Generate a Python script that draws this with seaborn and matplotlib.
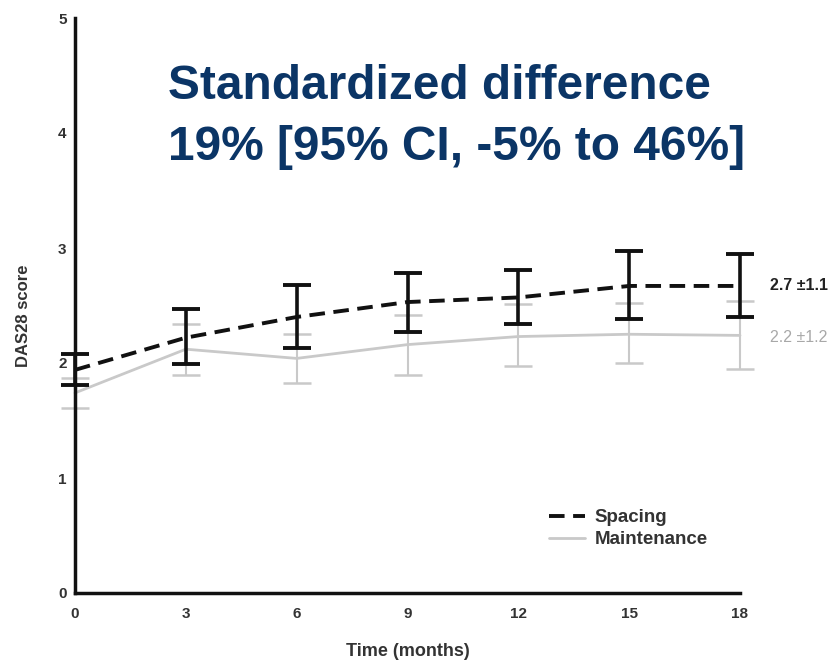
import matplotlib
matplotlib.use("Agg")
import matplotlib.pyplot as plt
import seaborn as sns
import pandas as pd
import numpy as np

months = [0, 3, 6, 9, 12, 15, 18]
spacing_mean = [1.94, 2.22, 2.40, 2.53, 2.57, 2.67, 2.67]
spacing_low = [1.81, 1.99, 2.13, 2.27, 2.34, 2.38, 2.40]
spacing_high = [2.08, 2.47, 2.68, 2.78, 2.81, 2.97, 2.95]
maint_mean = [1.74, 2.12, 2.04, 2.16, 2.23, 2.25, 2.24]
maint_low = [1.61, 1.90, 1.83, 1.90, 1.97, 2.00, 1.95]
maint_high = [1.87, 2.34, 2.25, 2.42, 2.51, 2.52, 2.54]
x_ticks = [0, 3, 6, 9, 12, 15, 18]
y_ticks = [0, 1, 2, 3, 4, 5]
title_lines = ["Standardized difference", "19% [95% CI, -5% to 46%]"]
end_labels = ["2.7 \u00b11.1", "2.2 \u00b11.2"]

sns.set_style("white")
plt.rcParams['font.family'] = ['Liberation Sans', 'DejaVu Sans']

df = pd.DataFrame({
    "Time": months * 2,
    "DAS28": spacing_mean + maint_mean,
    "Group": ["Spacing"] * len(months) + ["Maintenance"] * len(months),
})

fig = plt.figure(figsize=(8.34, 6.63), dpi=100)
ax = fig.add_axes([75 / 834, (663 - 593) / 663, (740 - 75) / 834, (593 - 18) / 663])

gray = "#c9c9c9"
black = "#111111"

eb1 = ax.errorbar(months, maint_mean,
                  yerr=[np.array(maint_mean) - np.array(maint_low), np.array(maint_high) - np.array(maint_mean)],
                  fmt="none", ecolor=gray, elinewidth=1.5, capsize=10, capthick=1.8, zorder=2)

sns.lineplot(data=df[df.Group == "Maintenance"], x="Time", y="DAS28", ax=ax,
             color=gray, linewidth=2, label="Maintenance", zorder=2)

eb2 = ax.errorbar(months, spacing_mean,
                  yerr=[np.array(spacing_mean) - np.array(spacing_low), np.array(spacing_high) - np.array(spacing_mean)],
                  fmt="none", ecolor=black, elinewidth=2.6, capsize=10, capthick=2.8, zorder=3)

sns.lineplot(data=df[df.Group == "Spacing"], x="Time", y="DAS28", ax=ax,
             color=black, linewidth=2.8, linestyle=(0, (4, 2.2)), label="Spacing", zorder=4)

for eb in (eb1, eb2):
    for part in eb.lines:
        if part is None:
            continue
        if isinstance(part, tuple):
            for p in part:
                p.set_clip_on(False)
        else:
            part.set_clip_on(False)
for ln in ax.lines:
    ln.set_clip_on(False)

ax.set_xlim(0, 18)
ax.set_ylim(0, 5)
ax.set_xticks(x_ticks)
ax.set_yticks(y_ticks)
ax.set_xticklabels([str(t) for t in x_ticks], fontsize=11, fontweight="bold", color="#333333")
ax.set_yticklabels([str(t) for t in y_ticks], fontsize=11, fontweight="bold", color="#333333")
ax.tick_params(axis="both", length=4, width=2, direction="out", color="#222222")
ax.tick_params(axis="x", pad=6)
ax.tick_params(axis="y", pad=2)

for s in ["top", "right"]:
    ax.spines[s].set_visible(False)
for s in ["left", "bottom"]:
    ax.spines[s].set_linewidth(2.5)
    ax.spines[s].set_color("#111111")

ax.set_xlabel("Time (months)", fontsize=13, fontweight="bold", color="#333333", labelpad=16)
ax.set_ylabel("DAS28 score", fontsize=12, fontweight="bold", color="#333333")
ax.yaxis.set_label_coords(-0.066, (593 - 316) / 575)

handles, labels = ax.get_legend_handles_labels()
order = [labels.index("Spacing"), labels.index("Maintenance")]
leg = ax.legend([handles[i] for i in order], [labels[i] for i in order],
                loc="upper left", bbox_to_anchor=((540 - 75) / 665, (593 - 500) / 575),
                frameon=False, fontsize=13.5, handlelength=1.9, handletextpad=0.5,
                labelspacing=0.25, borderpad=0)
for t in leg.get_texts():
    t.set_color("#333333")
    t.set_fontweight("bold")

ax.text(18.8, spacing_mean[-1], end_labels[0], fontsize=11.5, fontweight="bold",
        color="#222222", va="center", ha="left", clip_on=False)
ax.text(18.8, 2.22, end_labels[1], fontsize=11.5,
        color="#a8a8a8", va="center", ha="left", clip_on=False)

fig.text(168 / 834, 1 - 99 / 663, title_lines[0], fontsize=34.5, fontweight="bold",
         color="#0b3566", ha="left", va="baseline")
fig.text(168 / 834, 1 - 160 / 663, title_lines[1], fontsize=34.5, fontweight="bold",
         color="#0b3566", ha="left", va="baseline")

fig.savefig("out.png", dpi=100)
